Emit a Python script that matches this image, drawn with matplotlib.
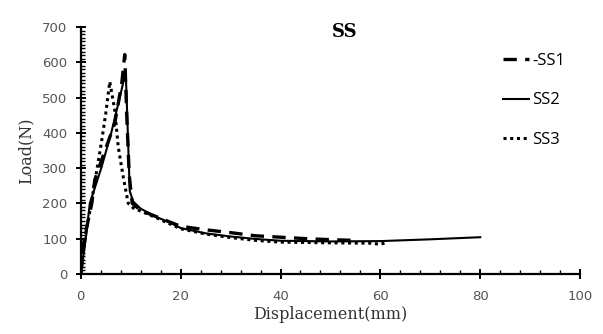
import matplotlib.pyplot as plt
from matplotlib.ticker import MultipleLocator

# SS1 (dashed)
ss1_x = [0, 0.7, 2.2, 2.8, 3.6, 5.1, 6.8, 8.2, 8.8, 9.2, 9.7, 10.3, 12, 15, 20, 25, 30, 35, 40, 45, 50, 55]
ss1_y = [0, 100, 200, 266, 300, 360, 427, 540, 622, 450, 280, 200, 180, 163, 135, 125, 117, 108, 104, 100, 97, 95]
# SS2 (solid)
ss2_x = [0, 1.0, 1.8, 4.1, 6.1, 7.8, 9.0, 9.3, 9.8, 10.5, 12, 15, 18, 20, 25, 30, 35, 40, 50, 60, 70, 80]
ss2_y = [0, 100, 200, 300, 400, 500, 573, 450, 235, 205, 185, 162, 145, 130, 115, 106, 99, 94, 92, 93, 98, 104]
# SS3 (dotted)
ss3_x = [0, 1.0, 2.1, 3.1, 4.1, 5.0, 5.8, 6.8, 7.5, 8.5, 9.5, 10.5, 15, 20, 25, 30, 35, 40, 50, 58, 60, 61]
ss3_y = [0, 116, 200, 285, 370, 455, 545, 465, 360, 275, 200, 187, 160, 128, 113, 103, 95, 90, 88, 87, 84, 88]

fig = plt.figure(figsize=(6.03, 3.34), dpi=100)
ax = fig.add_axes([0.134, 0.18, 0.828, 0.739])

ax.plot(ss1_x, ss1_y, color="black", lw=2.4, linestyle=(0, (4, 2.5)), label="-SS1")
ax.plot(ss2_x, ss2_y, color="black", lw=1.5, linestyle="-", label="SS2")
ax.plot(ss3_x, ss3_y, color="black", lw=2.2, linestyle=(0, (1, 1.2)), label="SS3")

ax.set_xlim(0, 100)
ax.set_ylim(0, 700)
ax.xaxis.set_major_locator(MultipleLocator(20))
ax.xaxis.set_minor_locator(MultipleLocator(4))
ax.yaxis.set_major_locator(MultipleLocator(100))
ax.yaxis.set_minor_locator(MultipleLocator(10))
for s in ["top", "right"]:
    ax.spines[s].set_visible(False)
for s in ["left", "bottom"]:
    ax.spines[s].set_linewidth(1.6)
ax.tick_params(which="major", direction="inout", length=7, width=1.4,
               labelsize=9.5, labelcolor="#555555")
ax.tick_params(which="minor", direction="in", length=3, width=1.0)
ax.tick_params(axis="x", which="major", pad=8)
ax.tick_params(axis="y", which="major", pad=6)

ax.set_xlabel("Displacement(mm)", family="serif", fontsize=11.5, color="#333333", labelpad=2)
ax.set_ylabel("Load(N)", family="serif", fontsize=11.5, color="#333333", labelpad=6)
fig.text(0.572, 0.905, "SS", family="serif", fontweight="bold", fontsize=13, ha="center", va="center")

leg = ax.legend(loc="upper left", bbox_to_anchor=(0.815, 0.955), frameon=False,
                handlelength=1.6, handletextpad=0.15, labelspacing=1.4,
                prop={"family": "Open Sans", "size": 12})

fig.savefig("out.png", dpi=100)
